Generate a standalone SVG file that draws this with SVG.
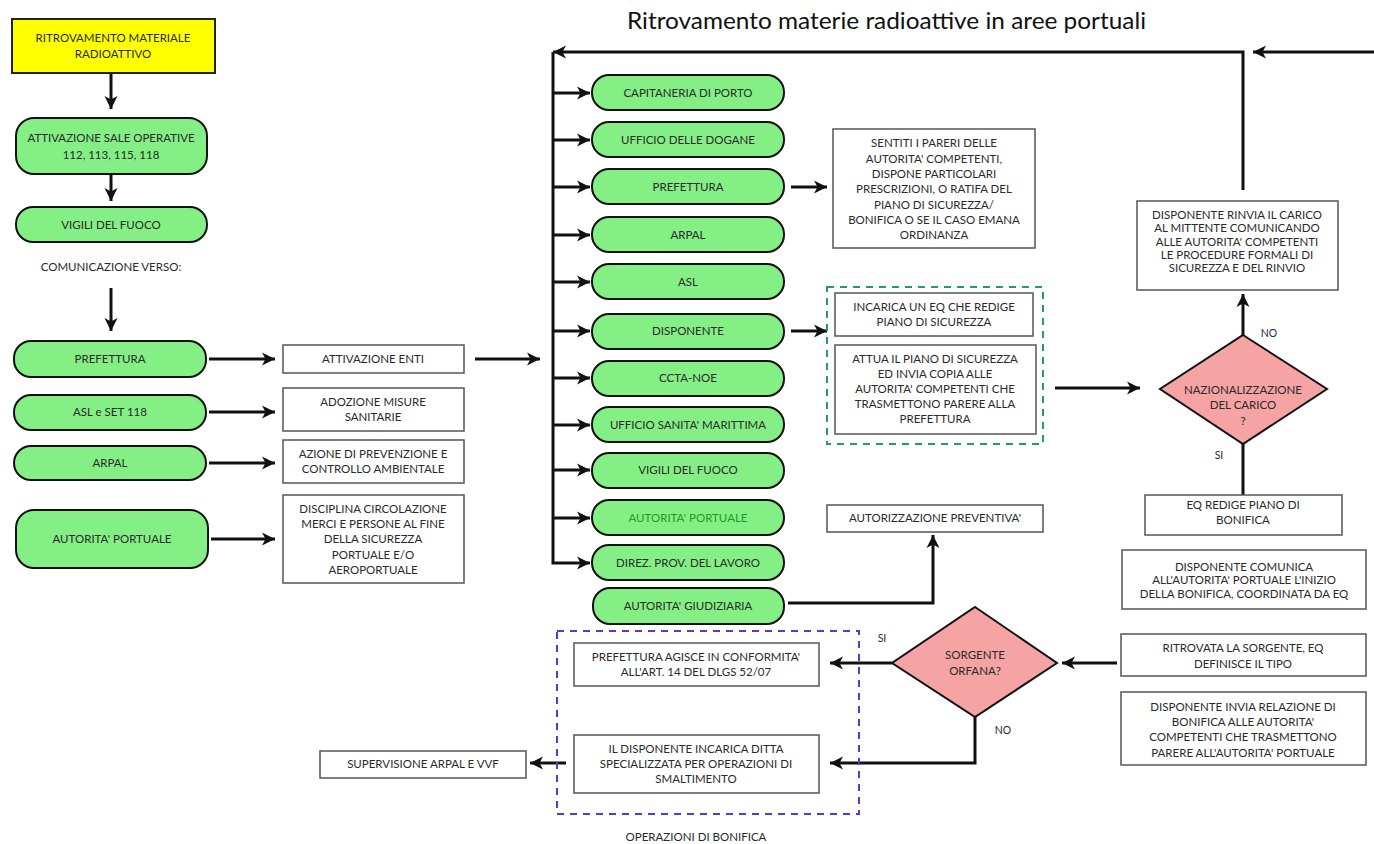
<svg xmlns="http://www.w3.org/2000/svg" width="1374" height="844" viewBox="0 0 1374 844">
<defs>
<marker id="ah" markerUnits="userSpaceOnUse" markerWidth="14" markerHeight="14" refX="13" refY="7" orient="auto">
<path d="M0,0.5 L13,7 L0,13.5 L3.5,7 z" fill="#111"/>
</marker>
<style>
text{font-family:Lato,"Open Sans","Liberation Sans",sans-serif;font-size:11.5px;fill:#2a2a2a;text-anchor:middle}
.g{fill:#84ef84;stroke:#111;stroke-width:2}
.b{fill:#fff;stroke:#555;stroke-width:1.5}
.d{fill:#f5a3a3;stroke:#111;stroke-width:2}
.c{fill:none;stroke:#111;stroke-width:3}
.a{marker-end:url(#ah)}
.lbl{font-size:10.5px}
.title{font-size:23px;fill:#111;text-anchor:start}
</style>
</defs>
<rect width="1374" height="844" fill="#fff"/>
<text class="title" x="627" y="29" textLength="519" lengthAdjust="spacingAndGlyphs">Ritrovamento materie radioattive in aree portuali</text>

<g id="connectors">
<line class="c a" x1="111" y1="74" x2="111" y2="109"/>
<line class="c a" x1="111" y1="175" x2="111" y2="201"/>
<line class="c a" x1="111" y1="288" x2="111" y2="331"/>
<line class="c a" x1="209" y1="359" x2="275" y2="359"/>
<line class="c a" x1="209" y1="412" x2="275" y2="412"/>
<line class="c a" x1="209" y1="463" x2="275" y2="463"/>
<line class="c a" x1="211" y1="539" x2="275" y2="539"/>
<line class="c a" x1="475" y1="359" x2="540" y2="359"/>
<polyline class="c a" points="1243,190 1243,52 553,52"/>
<line class="c a" x1="1374" y1="52" x2="1253" y2="52"/>
<polyline class="c a" points="553,52 553,563 590,563"/>
<line class="c a" x1="553" y1="93" x2="590" y2="93"/>
<line class="c a" x1="553" y1="140" x2="590" y2="140"/>
<line class="c a" x1="553" y1="187" x2="590" y2="187"/>
<line class="c a" x1="553" y1="235" x2="590" y2="235"/>
<line class="c a" x1="553" y1="282" x2="590" y2="282"/>
<line class="c a" x1="553" y1="331" x2="590" y2="331"/>
<line class="c a" x1="553" y1="378" x2="590" y2="378"/>
<line class="c a" x1="553" y1="425" x2="590" y2="425"/>
<line class="c a" x1="553" y1="470" x2="590" y2="470"/>
<line class="c a" x1="553" y1="518" x2="590" y2="518"/>
<line class="c a" x1="791" y1="187" x2="827" y2="187"/>
<line class="c a" x1="791" y1="331" x2="827" y2="331"/>
<line class="c a" x1="1055" y1="388" x2="1140" y2="388"/>
<line class="c a" x1="1243" y1="335" x2="1243" y2="294"/>
<line class="c" x1="1243" y1="444" x2="1243" y2="495"/>
<polyline class="c a" points="788,603 933,603 933,535"/>
<line class="c a" x1="1117" y1="663" x2="1062" y2="663"/>
<line class="c a" x1="892" y1="663" x2="830" y2="663"/>
<polyline class="c a" points="975,717 975,763 830,763"/>
<line class="c a" x1="566" y1="763" x2="530" y2="763"/>
</g>

<g id="n-ritrovamento">
<rect x="12" y="19" width="203" height="54" fill="#ffff00" stroke="#222" stroke-width="2"/>
<text x="113" y="42">RITROVAMENTO MATERIALE</text>
<text x="113" y="58">RADIOATTIVO</text>
</g>
<g id="n-sale-operative">
<rect class="g" x="16" y="118" width="191" height="56" rx="18"/>
<text x="111" y="142">ATTIVAZIONE SALE OPERATIVE</text>
<text x="111" y="159">112, 113, 115, 118</text>
</g>
<g id="n-vvf1">
<rect class="g" x="16" y="207" width="191" height="35" rx="17"/>
<text x="111" y="229">VIGILI DEL FUOCO</text>
</g>
<g id="n-comunicazione">
<text x="111" y="271">COMUNICAZIONE VERSO:</text>
</g>
<g id="n-prefettura1">
<rect class="g" x="14" y="341" width="192" height="36" rx="17"/>
<text x="110" y="363">PREFETTURA</text>
</g>
<g id="n-asl1">
<rect class="g" x="14" y="395" width="192" height="35" rx="17"/>
<text x="110" y="416">ASL e SET 118</text>
</g>
<g id="n-arpal1">
<rect class="g" x="14" y="446" width="192" height="34" rx="17"/>
<text x="110" y="467">ARPAL</text>
</g>
<g id="n-autporto1">
<rect class="g" x="16" y="510" width="192" height="58" rx="18"/>
<text x="112" y="543">AUTORITA' PORTUALE</text>
</g>
<g id="n-attivazione-enti">
<rect class="b" x="283" y="345" width="181" height="28"/>
<text x="373" y="363">ATTIVAZIONE ENTI</text>
</g>
<g id="n-adozione">
<rect class="b" x="283" y="388" width="181" height="43"/>
<text x="373" y="406">ADOZIONE MISURE</text>
<text x="373" y="421">SANITARIE</text>
</g>
<g id="n-azione">
<rect class="b" x="283" y="440" width="181" height="43"/>
<text x="373" y="458">AZIONE DI PREVENZIONE E</text>
<text x="373" y="473">CONTROLLO AMBIENTALE</text>
</g>
<g id="n-disciplina">
<rect class="b" x="283" y="495" width="181" height="88"/>
<text x="373" y="513">DISCIPLINA CIRCOLAZIONE</text>
<text x="373" y="528">MERCI E PERSONE AL FINE</text>
<text x="373" y="543">DELLA SICUREZZA</text>
<text x="373" y="559">PORTUALE E/O</text>
<text x="373" y="574">AEROPORTUALE</text>
</g>

<g id="n-capitaneria"><rect class="g" x="592" y="75" width="192" height="35" rx="17"/><text x="688" y="97">CAPITANERIA DI PORTO</text></g>
<g id="n-dogane"><rect class="g" x="592" y="122" width="192" height="35" rx="17"/><text x="688" y="144">UFFICIO DELLE DOGANE</text></g>
<g id="n-prefettura2"><rect class="g" x="592" y="169" width="192" height="35" rx="17"/><text x="688" y="191">PREFETTURA</text></g>
<g id="n-arpal2"><rect class="g" x="592" y="217" width="192" height="35" rx="17"/><text x="688" y="239">ARPAL</text></g>
<g id="n-asl2"><rect class="g" x="592" y="264" width="192" height="35" rx="17"/><text x="688" y="286">ASL</text></g>
<g id="n-disponente"><rect class="g" x="592" y="314" width="192" height="35" rx="17"/><text x="688" y="335">DISPONENTE</text></g>
<g id="n-ccta"><rect class="g" x="592" y="361" width="192" height="35" rx="17"/><text x="688" y="382">CCTA-NOE</text></g>
<g id="n-sanita"><rect class="g" x="592" y="407" width="192" height="35" rx="17"/><text x="688" y="429">UFFICIO SANITA' MARITTIMA</text></g>
<g id="n-vvf2"><rect class="g" x="592" y="453" width="192" height="35" rx="17"/><text x="688" y="474">VIGILI DEL FUOCO</text></g>
<g id="n-autporto2"><rect class="g" x="592" y="500" width="192" height="35" rx="17"/><text x="688" y="522" style="fill:#1f9a2a">AUTORITA' PORTUALE</text></g>
<g id="n-direz"><rect class="g" x="592" y="545" width="192" height="35" rx="17"/><text x="688" y="567">DIREZ. PROV. DEL LAVORO</text></g>
<g id="n-giudiziaria"><rect class="g" x="593" y="588" width="191" height="36" rx="17"/><text x="688" y="610">AUTORITA' GIUDIZIARIA</text></g>

<g id="n-sentiti">
<rect class="b" x="833" y="129" width="202" height="119"/>
<text x="934" y="147">SENTITI I PARERI DELLE</text>
<text x="934" y="163">AUTORITA' COMPETENTI,</text>
<text x="934" y="178">DISPONE PARTICOLARI</text>
<text x="934" y="193">PRESCRIZIONI, O RATIFA DEL</text>
<text x="934" y="209">PIANO DI SICUREZZA/</text>
<text x="934" y="224">BONIFICA O SE IL CASO EMANA</text>
<text x="934" y="239">ORDINANZA</text>
</g>
<g id="g-disponente-group">
<rect x="827" y="287" width="216" height="157" fill="none" stroke="#22997a" stroke-width="2" stroke-dasharray="7 6"/>
</g>
<g id="n-incarica">
<rect class="b" x="835" y="293" width="198" height="43"/>
<text x="934" y="311">INCARICA UN EQ CHE REDIGE</text>
<text x="934" y="326">PIANO DI SICUREZZA</text>
</g>
<g id="n-attua">
<rect class="b" x="835" y="345" width="201" height="89"/>
<text x="935" y="363">ATTUA IL PIANO DI SICUREZZA</text>
<text x="935" y="378">ED INVIA COPIA ALLE</text>
<text x="935" y="393">AUTORITA' COMPETENTI CHE</text>
<text x="935" y="408">TRASMETTONO  PARERE ALLA</text>
<text x="935" y="423">PREFETTURA</text>
</g>
<g id="n-autorizzazione">
<rect class="b" x="827" y="505" width="216" height="27"/>
<text x="935" y="522">AUTORIZZAZIONE PREVENTIVA'</text>
</g>
<g id="n-nazionalizzazione">
<polygon class="d" points="1243,335 1327,389 1243,444 1160,389"/>
<text x="1243" y="394">NAZIONALIZZAZIONE</text>
<text x="1243" y="409">DEL CARICO</text>
<text x="1243" y="425">?</text>
</g>
<g id="l-no1"><text class="lbl" x="1269" y="337">NO</text></g>
<g id="l-si1"><text class="lbl" x="1219" y="459">SI</text></g>
<g id="n-rinvia">
<rect class="b" x="1137" y="201" width="201" height="89"/>
<text x="1237" y="219">DISPONENTE RINVIA IL CARICO</text>
<text x="1237" y="232">AL MITTENTE COMUNICANDO</text>
<text x="1237" y="246">ALLE AUTORITA' COMPETENTI</text>
<text x="1237" y="259">LE PROCEDURE FORMALI DI</text>
<text x="1237" y="272">SICUREZZA E DEL RINVIO</text>
</g>
<g id="n-eq-redige">
<rect class="b" x="1145" y="495" width="197" height="40"/>
<text x="1243" y="509">EQ REDIGE PIANO DI</text>
<text x="1243" y="524">BONIFICA</text>
</g>
<g id="n-comunica">
<rect class="b" x="1122" y="550" width="244" height="59"/>
<text x="1244" y="571">DISPONENTE COMUNICA</text>
<text x="1244" y="584">ALL'AUTORITA' PORTUALE L'INIZIO</text>
<text x="1244" y="598">DELLA BONIFICA, COORDINATA DA EQ</text>
</g>
<g id="n-ritrovata">
<rect class="b" x="1121" y="634" width="245" height="42"/>
<text x="1243" y="652">RITROVATA LA SORGENTE, EQ</text>
<text x="1243" y="668">DEFINISCE IL TIPO</text>
</g>
<g id="n-invia">
<rect class="b" x="1121" y="692" width="245" height="73"/>
<text x="1243" y="711">DISPONENTE INVIA RELAZIONE DI</text>
<text x="1243" y="726">BONIFICA ALLE AUTORITA'</text>
<text x="1243" y="741">COMPETENTI CHE TRASMETTONO</text>
<text x="1243" y="757">PARERE ALL'AUTORITA' PORTUALE</text>
</g>
<g id="n-sorgente">
<polygon class="d" points="975,607 1057,663 975,717 892,663"/>
<text x="975" y="659">SORGENTE</text>
<text x="975" y="675">ORFANA?</text>
</g>
<g id="l-si2"><text class="lbl" x="882" y="642">SI</text></g>
<g id="l-no2"><text class="lbl" x="1003" y="734">NO</text></g>
<g id="g-bonifica-group">
<rect x="557" y="631" width="302" height="183" fill="none" stroke="#5a35d8" stroke-width="2" stroke-dasharray="7 6"/>
<text x="696" y="841">OPERAZIONI DI BONIFICA</text>
</g>
<g id="n-prefettura-agisce">
<rect class="b" x="574" y="643" width="245" height="43"/>
<text x="696" y="661">PREFETTURA AGISCE IN CONFORMITA'</text>
<text x="696" y="676">ALL'ART. 14 DEL DLGS 52/07</text>
</g>
<g id="n-ditta">
<rect class="b" x="574" y="735" width="245" height="58"/>
<text x="696" y="753">IL DISPONENTE INCARICA DITTA</text>
<text x="696" y="768">SPECIALIZZATA PER OPERAZIONI DI</text>
<text x="696" y="783">SMALTIMENTO</text>
</g>
<g id="n-supervisione">
<rect class="b" x="320" y="751" width="206" height="27"/>
<text x="423" y="768">SUPERVISIONE ARPAL E VVF</text>
</g>
</svg>
